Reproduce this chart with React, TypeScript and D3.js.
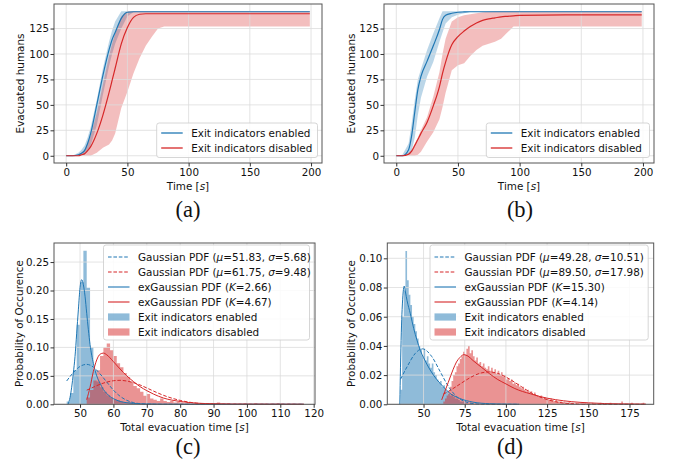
import * as d3 from "d3";
import { useEffect, useRef } from "react";

const BLUE = "#1f77b4";
const RED = "#d62728";
const FONT = "'DejaVu Sans', sans-serif";
const SERIF = "'Liberation Serif', 'DejaVu Serif', serif";

// time steps (s) for panels (a) and (b)
const timeSteps = [0, 5, 10, 12.5, 15, 17.5, 20, 25, 30, 35, 37.5, 40, 45, 50, 55, 60, 65, 70, 75, 80, 85, 90, 95, 100, 150, 199];

// panel (a): evacuated humans, mean and min/max band
const blueMeanA = [0, 0, 1, 2.5, 5, 12, 22, 50, 79, 104, 114, 121, 135, 141, 141.5, 141.5, 141.5, 141.5, 141.5, 141.5, 141.5, 141.5, 141.5, 141.5, 141.5, 141.5];
const blueLowA = [0, 0, 0, 0.5, 1, 4, 10, 30, 60, 88, 100, 110, 125, 137, 141, 141.5, 141.5, 141.5, 141.5, 141.5, 141.5, 141.5, 141.5, 141.5, 141.5, 141.5];
const blueHighA = [0, 0, 3, 6, 10, 18, 28, 55, 86, 112, 123, 132, 142, 142, 142, 142, 142, 142, 142, 142, 142, 142, 142, 142, 142, 142];
const redMeanA = [0, 0, 0, 1, 2, 5, 9, 22, 40, 62, 74, 86, 110, 126, 136, 139, 139.5, 139.5, 139.5, 139.5, 139.5, 139.5, 139.5, 139.5, 139.5, 139.5];
const redLowA = [0, 0, 0, 0, 0, 0, 0, 3, 8, 11, 15, 22, 47, 63, 81, 96, 108, 117, 125, 127, 127, 127, 127, 127, 127, 127];
const redHighA = [0, 0, 1, 3, 6, 12, 20, 42, 70, 98, 110, 120, 137, 142, 142, 142, 142, 142, 142, 142, 142, 142, 142, 142, 142, 142];

// panel (b)
const blueMeanB = [0, 0, 6, 20, 43, 65, 78, 93, 108, 124, 134, 138, 140, 141, 141.3, 141.5, 141.5, 141.5, 141.5, 141.5, 141.5, 141.5, 141.5, 141.5, 141.5, 141.5];
const blueLowB = [0, 0, 1, 5, 18, 40, 57, 78, 92, 112, 121, 130, 136, 138.5, 140, 141.5, 141.5, 141.5, 141.5, 141.5, 141.5, 141.5, 141.5, 141.5, 141.5, 141.5];
const blueHighB = [0, 1, 12, 32, 55, 75, 85, 104, 120, 135, 142, 142, 142, 142, 142, 142, 142, 142, 142, 142, 142, 142, 142, 142, 142, 142];
const redMeanB = [0, 0, 1.5, 4.5, 10, 16, 22, 33, 49, 68, 81, 92, 109, 117, 122.5, 127, 130.5, 133, 134.5, 135.5, 136.5, 137, 137.5, 138, 138.5, 138.5];
const redLowB = [0, 0, 0, 0, 0, 1, 4, 14, 23, 36, 48, 62, 84, 89, 91, 98, 104, 108, 110, 112, 115, 121, 127, 127, 127, 127];
const redHighB = [0, 0, 3, 6, 12, 18, 25, 38, 58, 82, 100, 115, 132, 136, 138, 139, 140, 141, 141.5, 142, 142, 142, 142, 142, 142, 142];

// histograms, bins of 1 s starting at the given time
const histBlueCStart = 46;
const histBlueC = [0.005, 0.02, 0.06, 0.14, 0.215, 0.27, 0.205, 0.1, 0.06, 0.04, 0.03, 0.022, 0.016, 0.012, 0.009, 0.007, 0.005, 0.004, 0.003, 0.003, 0.002, 0.002, 0.001, 0.001, 0.001, 0.001];
const histRedCStart = 52;
const histRedC = [
    0.012, 0.025, 0.042, 0.06, 0.085, 0.1, 0.107, 0.095, 0.085, 0.072,
    0.065, 0.055, 0.048, 0.04, 0.032, 0.028, 0.022, 0.015, 0.018, 0.01,
    0.008, 0.006, 0.01, 0.006, 0.004, 0.006, 0.003, 0.004, 0.003, 0.002,
    0.004, 0.001, 0.002, 0.001, 0.002, 0.001, 0.001, 0.002, 0.001, 0.003,
    0.001, 0.001, 0.002, 0, 0.001, 0.001, 0.001, 0.002, 0.001, 0,
    0.002, 0.001, 0.001, 0.001, 0, 0.001, 0.001, 0.002, 0.001, 0,
    0.001, 0.001, 0.001, 0, 0.001
];
const histBlueDStart = 36;
const histBlueD = [
    0.01, 0.06, 0.078, 0.105, 0.085, 0.075, 0.068, 0.06, 0.055, 0.05,
    0.045, 0.04, 0.038, 0.033, 0.038, 0.03, 0.033, 0.028, 0.025, 0.028,
    0.022, 0.02, 0.017, 0.015, 0.016, 0.012, 0.013, 0.01, 0.009, 0.007,
    0.006, 0.007, 0.005, 0.004, 0.004, 0.003, 0.002, 0.002, 0.002, 0.001,
    0.001, 0, 0.001
];
const histRedDStart = 62;
const histRedD = [
    0.002, 0.004, 0.006, 0.009, 0.012, 0.016, 0.02, 0.022, 0.026, 0.028,
    0.031, 0.033, 0.036, 0.034, 0.038, 0.04, 0.035, 0.037, 0.033, 0.03,
    0.032, 0.028, 0.029, 0.026, 0.028, 0.025, 0.024, 0.026, 0.023, 0.025,
    0.022, 0.024, 0.021, 0.023, 0.02, 0.022, 0.019, 0.02, 0.017, 0.018,
    0.016, 0.017, 0.014, 0.015, 0.013, 0.014, 0.012, 0.011, 0.012, 0.01,
    0.009, 0.01, 0.008, 0.009, 0.007, 0.008, 0.006, 0.006, 0.005, 0.006,
    0.004, 0.005, 0.004, 0.004, 0.003, 0.004, 0.003, 0.002, 0.003, 0.002,
    0.002, 0.002, 0.001, 0.002, 0.001, 0.001, 0.002, 0.001, 0.001, 0,
    0.001, 0, 0, 0.001, 0, 0, 0.001, 0, 0, 0,
    0.001, 0, 0, 0, 0, 0.001, 0, 0, 0, 0,
    0, 0.001, 0, 0, 0, 0, 0, 0, 0.002, 0,
    0, 0, 0, 0, 0.001, 0, 0, 0, 0, 0,
    0, 0.001
];

// fitted density curves
const gaussBlueCx = [46, 48, 50, 52, 54, 56, 58, 60, 62, 64, 66, 68, 70, 75, 80, 90, 100, 117];
const gaussBlueCy = [0.041, 0.0558, 0.0665, 0.0702, 0.0654, 0.0534, 0.0392, 0.0249, 0.0141, 0.007, 0.003, 0.0011, 0.0004, 0, 0, 0, 0, 0];
const gaussRedCx = [52, 54, 56, 58, 60, 62, 64, 66, 68, 70, 72, 75, 80, 85, 90, 95, 100, 117];
const gaussRedCy = [0.0248, 0.0301, 0.0352, 0.039, 0.0414, 0.0421, 0.0409, 0.038, 0.0339, 0.0287, 0.0233, 0.0158, 0.0069, 0.002, 0.0005, 0.0001, 0, 0];
const exgBlueCx = [46.4, 47, 47.5, 48, 48.5, 49, 49.5, 50, 50.5, 51, 51.5, 52, 52.5, 53, 54, 55, 56, 57, 58, 59, 60, 62, 64, 66, 70, 75, 80, 117];
const exgBlueCy = [0, 0.012, 0.03, 0.055, 0.084, 0.125, 0.166, 0.205, 0.219, 0.21, 0.19, 0.16, 0.131, 0.105, 0.072, 0.05, 0.037, 0.026, 0.019, 0.0135, 0.01, 0.005, 0.0028, 0.0015, 0.0005, 0.0001, 0, 0];
const exgRedCx = [52, 53, 54, 55, 56, 57, 58, 60, 62, 64, 66, 68, 70, 72, 75, 80, 85, 90, 100, 117];
const exgRedCy = [0.008, 0.03, 0.058, 0.078, 0.088, 0.09, 0.087, 0.075, 0.062, 0.05, 0.04, 0.031, 0.024, 0.018, 0.011, 0.005, 0.002, 0.001, 0.0002, 0];

const gaussBlueDx = [36, 40, 45, 49.3, 55, 60, 65, 70, 75, 80, 85, 90, 100, 108];
const gaussBlueDy = [0.0171, 0.0257, 0.0349, 0.038, 0.0327, 0.0226, 0.0124, 0.0054, 0.0019, 0.0005, 0.0001, 0, 0, 0];
const gaussRedDx = [62, 65, 70, 75, 80, 85, 90, 95, 100, 105, 110, 115, 120, 130, 140, 150, 165, 185];
const gaussRedDy = [0.0069, 0.0088, 0.0123, 0.016, 0.0193, 0.0215, 0.0222, 0.0212, 0.0187, 0.0153, 0.0116, 0.0081, 0.0053, 0.0018, 0.0004, 0.0001, 0, 0];
const exgBlueDx = [35.6, 36, 37, 38.3, 39, 40, 42, 44, 46, 48, 50, 54, 58, 62, 66, 72, 80, 90, 100, 108];
const exgBlueDy = [0, 0.025, 0.065, 0.081, 0.077, 0.071, 0.062, 0.052, 0.044, 0.037, 0.032, 0.0235, 0.017, 0.012, 0.0075, 0.004, 0.0015, 0.0004, 0.0001, 0];
const exgRedDx = [61, 63, 65, 68, 70, 72, 74.5, 77, 80, 85, 90, 95, 100, 105, 110, 115, 120, 125, 130, 140, 150, 160, 170, 185];
const exgRedDy = [0.003, 0.009, 0.015, 0.024, 0.029, 0.032, 0.034, 0.033, 0.03, 0.0255, 0.021, 0.017, 0.014, 0.011, 0.0088, 0.0072, 0.0055, 0.0042, 0.0032, 0.0018, 0.001, 0.0005, 0.0003, 0.0001];

const legendCurves = ["Exit indicators enabled", "Exit indicators disabled"];
const legendC = ["Gaussian PDF ($μ$=51.83, $σ$=5.68)", "Gaussian PDF ($μ$=61.75, $σ$=9.48)", "exGaussian PDF ($K$=2.66)", "exGaussian PDF ($K$=4.67)", "Exit indicators enabled", "Exit indicators disabled"];
const legendD = ["Gaussian PDF ($μ$=49.28, $σ$=10.51)", "Gaussian PDF ($μ$=89.50, $σ$=17.98)", "exGaussian PDF ($K$=15.30)", "exGaussian PDF ($K$=4.14)", "Exit indicators enabled", "Exit indicators disabled"];

// text with $..$ parts in italics (like matplotlib mathtext)
const richText = (sel, label) => {
    label.split("$").forEach((part, i) => {
        if (!part) return;
        sel.append("tspan").text(part).attr("font-style", i % 2 ? "italic" : null);
    });
};

const makeScales = (p) => {
    const x = d3.scaleLinear().domain(p.xDomain).range([p.left, p.right]);
    const y = d3.scaleLinear().domain(p.yDomain).range([p.bottom, p.top]);
    return { x, y };
};

const drawGrid = (svg, p, x, y) => {
    const g = svg.append("g").attr("stroke", "#dcdcdc").attr("stroke-width", 0.8);
    p.xTicks.forEach(t => {
        g.append("line").attr("x1", x(t)).attr("x2", x(t)).attr("y1", p.top).attr("y2", p.bottom);
    });
    p.yTicks.forEach(t => {
        g.append("line").attr("x1", p.left).attr("x2", p.right).attr("y1", y(t)).attr("y2", y(t));
    });
};

const drawAxes = (svg, p, x, y) => {
    svg.append("rect")
        .attr("x", p.left).attr("y", p.top)
        .attr("width", p.right - p.left).attr("height", p.bottom - p.top)
        .attr("fill", "none").attr("stroke", "#555").attr("stroke-width", 1);

    const xAxis = svg.append("g")
        .attr("transform", `translate(0, ${p.bottom})`)
        .call(d3.axisBottom(x).tickValues(p.xTicks).tickSize(3.5).tickPadding(1.8).tickFormat(d => String(d)));
    const yAxis = svg.append("g")
        .attr("transform", `translate(${p.left}, 0)`)
        .call(d3.axisLeft(y).tickValues(p.yTicks).tickSize(3.5).tickPadding(1.5).tickFormat(p.yFormat));
    [xAxis, yAxis].forEach(a => {
        a.select(".domain").remove();
        a.selectAll("line").attr("stroke", "#333");
        a.selectAll("text").attr("font-family", FONT).attr("font-size", 10.3).attr("fill", "#111");
    });

    svg.append("text")
        .attr("x", (p.left + p.right) / 2).attr("y", p.bottom + 22.5)
        .attr("text-anchor", "middle").attr("dominant-baseline", "central")
        .attr("font-family", FONT).attr("font-size", 10.4).attr("fill", "#111")
        .call(richText, p.xLabel);

    svg.append("text")
        .attr("transform", `translate(${p.yLabelX}, ${(p.top + p.bottom) / 2}) rotate(-90)`)
        .attr("text-anchor", "middle").attr("dominant-baseline", "central")
        .attr("font-family", FONT).attr("font-size", 10.4).attr("fill", "#111")
        .text(p.yLabel);

    svg.append("text")
        .attr("x", p.tagX).attr("y", p.tagY)
        .attr("text-anchor", "middle")
        .attr("font-family", SERIF).attr("font-size", 22.5).attr("fill", "#111")
        .text(p.tag);
};

const drawBand = (svg, x, y, low, high, color) => {
    const area = d3.area()
        .x((d, i) => x(timeSteps[i]))
        .y0((d, i) => y(low[i]))
        .y1((d, i) => y(high[i]));
    svg.append("path").attr("d", area(timeSteps)).attr("fill", color).attr("fill-opacity", 0.3);
};

const drawCurve = (svg, x, y, xs, ys, color, width, dashed) => {
    const line = d3.line()
        .x(d => x(d[0]))
        .y(d => y(d[1]))
        .curve(d3.curveMonotoneX);
    svg.append("path")
        .attr("d", line(xs.map((v, i) => [v, ys[i]])))
        .attr("fill", "none").attr("stroke", color).attr("stroke-width", width)
        .attr("stroke-dasharray", dashed ? "3.6,1.8" : null);
};

const drawHist = (svg, x, y, start, values, color) => {
    const pts = values.map((v, i) => [start + i, v]);
    pts.push([start + values.length, 0]);
    const area = d3.area()
        .curve(d3.curveStepAfter)
        .x(d => x(d[0]))
        .y0(y(0))
        .y1(d => y(d[1]));
    svg.append("path").attr("d", area(pts)).attr("fill", color).attr("fill-opacity", 0.5);
};

const drawLegend = (svg, box, items) => {
    const g = svg.append("g");
    g.append("rect")
        .attr("x", box.x).attr("y", box.y).attr("width", box.w).attr("height", box.h)
        .attr("rx", 2.5).attr("fill", "white").attr("fill-opacity", 0.85)
        .attr("stroke", "#cccccc").attr("stroke-width", 0.8);
    items.forEach((it, i) => {
        const cy = box.y + box.first + i * box.step;
        if (it.kind === "patch") {
            g.append("rect")
                .attr("x", box.x + 4.5).attr("y", cy - 3.6).attr("width", 21.5).attr("height", 7.2)
                .attr("fill", it.color).attr("fill-opacity", 0.5);
        } else {
            g.append("line")
                .attr("x1", box.x + 4.5).attr("x2", box.x + 26).attr("y1", cy).attr("y2", cy)
                .attr("stroke", it.color).attr("stroke-width", it.width || 1.1)
                .attr("stroke-dasharray", it.kind === "dash" ? "3.6,1.8" : null);
        }
        g.append("text")
            .attr("x", box.x + 34.5).attr("y", cy)
            .attr("dominant-baseline", "central")
            .attr("font-family", FONT).attr("font-size", 10.4).attr("fill", "#111")
            .call(richText, it.label);
    });
};

const panelA = {
    left: 54, right: 322, top: 4, bottom: 163,
    xDomain: [-9.95, 208.95], yDomain: [-7.1, 149.1],
    xTicks: [0, 50, 100, 150, 200], yTicks: [0, 25, 50, 75, 100, 125],
    yFormat: d => String(d), xLabel: "Time [$s$]", yLabel: "Evacuated humans",
    yLabelX: 20, tag: "(a)", tagX: 188, tagY: 217
};
const panelB = {
    ...panelA, left: 384, right: 654, yLabelX: 350.5, tag: "(b)", tagX: 520
};
const panelC = {
    left: 54, right: 315, top: 243, bottom: 404.3,
    xDomain: [42.2, 120.4], yDomain: [0, 0.2835],
    xTicks: [50, 60, 70, 80, 90, 100, 110, 120], yTicks: [0, 0.05, 0.1, 0.15, 0.2, 0.25],
    yFormat: d3.format(".2f"), xLabel: "Total evacuation time [$s$]", yLabel: "Probability of Occurence",
    yLabelX: 18.5, tag: "(c)", tagX: 188, tagY: 454
};
const panelD = {
    ...panelC, left: 387.3, right: 653.7,
    xDomain: [28, 189.7], yDomain: [0, 0.1105],
    xTicks: [50, 75, 100, 125, 150, 175], yTicks: [0, 0.02, 0.04, 0.06, 0.08, 0.1],
    yLabelX: 350.5, tag: "(d)", tagX: 510
};

const drawEvacPanel = (svg, p, series, legendX) => {
    const { x, y } = makeScales(p);
    drawBand(svg, x, y, series.blueLow, series.blueHigh, BLUE);
    drawBand(svg, x, y, series.redLow, series.redHigh, RED);
    drawGrid(svg, p, x, y);
    drawCurve(svg, x, y, timeSteps, series.blueMean, BLUE, 1.2, false);
    drawCurve(svg, x, y, timeSteps, series.redMean, RED, 1.2, false);
    drawAxes(svg, p, x, y);
    drawLegend(svg, { x: legendX, y: 123, w: p.right - 4.5 - legendX, h: 34.5, first: 10, step: 15 }, [
        { kind: "line", color: BLUE, label: legendCurves[0], width: 1.3 },
        { kind: "line", color: RED, label: legendCurves[1], width: 1.3 }
    ]);
};

const drawHistPanel = (svg, p, h, legendX, labels) => {
    const { x, y } = makeScales(p);
    drawHist(svg, x, y, h.blueStart, h.blue, BLUE);
    drawHist(svg, x, y, h.redStart, h.red, RED);
    drawGrid(svg, p, x, y);
    drawCurve(svg, x, y, h.gbx, h.gby, BLUE, 1, true);
    drawCurve(svg, x, y, h.grx, h.gry, RED, 1, true);
    drawCurve(svg, x, y, h.ebx, h.eby, BLUE, 1, false);
    drawCurve(svg, x, y, h.erx, h.ery, RED, 1, false);
    drawAxes(svg, p, x, y);
    drawLegend(svg, { x: legendX, y: 245, w: p.right - 5.5 - legendX, h: 95, first: 12, step: 15 }, [
        { kind: "dash", color: BLUE, label: labels[0] },
        { kind: "dash", color: RED, label: labels[1] },
        { kind: "line", color: BLUE, label: labels[2] },
        { kind: "line", color: RED, label: labels[3] },
        { kind: "patch", color: BLUE, label: labels[4] },
        { kind: "patch", color: RED, label: labels[5] }
    ]);
};

const App = () => {
    const ref = useRef(null);

    useEffect(() => {
        const svg = d3.select(ref.current);
        svg.selectAll("*").remove();

        drawEvacPanel(svg, panelA, {
            blueMean: blueMeanA, blueLow: blueLowA, blueHigh: blueHighA,
            redMean: redMeanA, redLow: redLowA, redHigh: redHighA
        }, 156.7);
        drawEvacPanel(svg, panelB, {
            blueMean: blueMeanB, blueLow: blueLowB, blueHigh: blueHighB,
            redMean: redMeanB, redLow: redLowB, redHigh: redHighB
        }, 486.3);
        drawHistPanel(svg, panelC, {
            blueStart: histBlueCStart, blue: histBlueC, redStart: histRedCStart, red: histRedC,
            gbx: gaussBlueCx, gby: gaussBlueCy, grx: gaussRedCx, gry: gaussRedCy,
            ebx: exgBlueCx, eby: exgBlueCy, erx: exgRedCx, ery: exgRedCy
        }, 103.5, legendC);
        drawHistPanel(svg, panelD, {
            blueStart: histBlueDStart, blue: histBlueD, redStart: histRedDStart, red: histRedD,
            gbx: gaussBlueDx, gby: gaussBlueDy, grx: gaussRedDx, gry: gaussRedDy,
            ebx: exgBlueDx, eby: exgBlueDy, erx: exgRedDx, ery: exgRedDy
        }, 430, legendD);
    }, []);

    return (
        <svg ref={ref} width={673} height={465}
            style={{ position: "absolute", left: 0, top: 0, background: "white" }} />
    );
};

export default App;
